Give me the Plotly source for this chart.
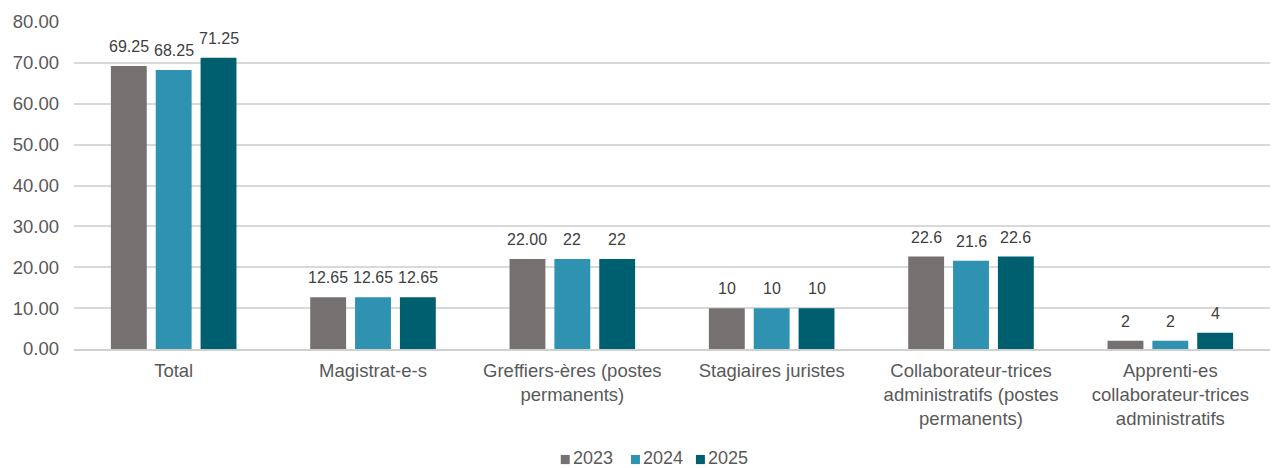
import plotly.graph_objects as go

categories = [
    "Total",
    "Magistrat-e-s",
    "Greffiers-ères (postes<br>permanents)",
    "Stagiaires juristes",
    "Collaborateur-trices<br>administratifs (postes<br>permanents)",
    "Apprenti-es<br>collaborateur-trices<br>administratifs",
]
years = ["2023", "2024", "2025"]
values_2023 = [69.25, 12.65, 22.00, 10, 22.6, 2]
values_2024 = [68.25, 12.65, 22, 10, 21.6, 2]
values_2025 = [71.25, 12.65, 22, 10, 22.6, 4]
labels_2023 = ["69.25", "12.65", "22.00", "10", "22.6", "2"]
labels_2024 = ["68.25", "12.65", "22", "10", "21.6", "2"]
labels_2025 = ["71.25", "12.65", "22", "10", "22.6", "4"]
y_ticks = [0, 10, 20, 30, 40, 50, 60, 70, 80]

colors = ["#767171", "#2E92B0", "#005F6E"]
series = [values_2023, values_2024, values_2025]
labels = [labels_2023, labels_2024, labels_2025]

FONT = "Liberation Sans, Arial, sans-serif"
TEXT_GREY = "#595959"

fig = go.Figure()
for year, vals, col in zip(years, series, colors):
    fig.add_trace(go.Bar(
        name=year, x=categories, y=vals, marker_color=col,
        marker_line_width=0, showlegend=False,
    ))

# value labels above each bar of the group
bargap = 0.325
slot = (1 - bargap) / 3
for k, (vals, labs) in enumerate(zip(series, labels)):
    offset = (k - 1) * slot
    for i, (v, t) in enumerate(zip(vals, labs)):
        fig.add_annotation(
            x=i + offset, y=v, xref="x", yref="y", text=t,
            showarrow=False, yanchor="bottom", yshift=9,
            font=dict(family=FONT, size=16, color="#404040"),
        )

# compact legend row under the chart: small square + year label
legend_x = [0.407, 0.4657, 0.520]
for year, col, lx in zip(years, colors, legend_x):
    fig.add_shape(
        type="rect", xref="paper", yref="paper",
        x0=lx, x1=lx + 0.0075, y0=-0.352, y1=-0.324,
        fillcolor=col, line_width=0,
    )
    fig.add_annotation(
        x=lx + 0.0095, y=-0.333, xref="paper", yref="paper", text=year,
        showarrow=False, xanchor="left", yanchor="middle", borderpad=0,
        font=dict(family=FONT, size=18, color=TEXT_GREY),
    )

fig.update_layout(
    width=1272, height=468,
    margin=dict(l=74, r=2, t=22, b=119),
    paper_bgcolor="white", plot_bgcolor="white",
    barmode="group", bargap=bargap, bargroupgap=0.2,
    font=dict(family=FONT, size=18.5, color=TEXT_GREY),
    showlegend=False,
)
fig.update_xaxes(
    showgrid=False, showline=True, linecolor="#d0d0d0", linewidth=1.5,
    tickfont=dict(size=18.5, color=TEXT_GREY), ticks="",
    ticklabelstandoff=4,
)
fig.update_yaxes(
    range=[0, 80], tickvals=y_ticks, tickformat=".2f",
    showgrid=True, gridcolor="#d9d9d9", gridwidth=1.5,
    zeroline=False, showline=False,
    ticklabelstandoff=14,
    tickfont=dict(size=18.5, color=TEXT_GREY),
)

fig.write_html("out.html")
